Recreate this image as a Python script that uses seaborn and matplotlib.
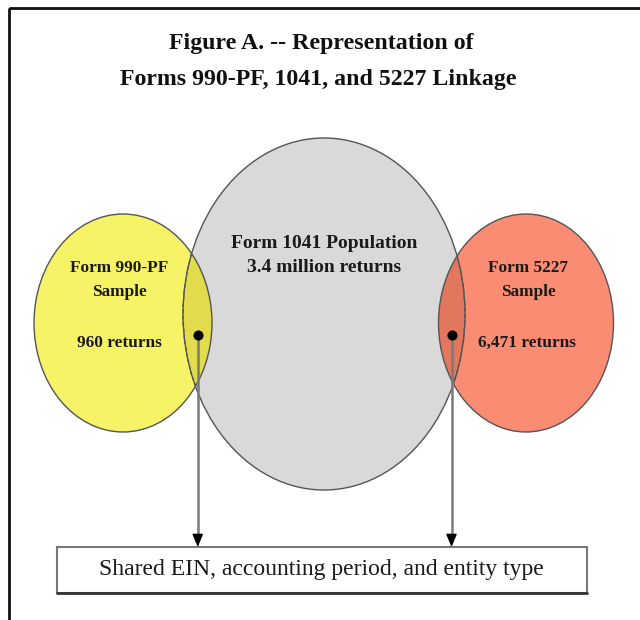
import numpy as np
import pandas as pd
import matplotlib
matplotlib.use("Agg")
import matplotlib.pyplot as plt
from matplotlib.patches import Ellipse, Rectangle
import seaborn as sns

# labels and counts shown in the diagram
title_lines = ["Figure A. -- Representation of", "Forms 990-PF, 1041, and 5227 Linkage"]
set_names = ["Form 990-PF\nSample", "Form 1041 Population", "Form 5227\nSample"]
set_counts = ["960 returns", "3.4 million returns", "6,471 returns"]
link_label = "Shared EIN, accounting period, and entity type"

# layout (pixel space of the 640x620 canvas)
W, H = 640, 620
ellipses = {
    "pf":   dict(cx=123, cy=323, w=178, h=218, fc="#f6f466", over="#e2dc4c"),
    "pop":  dict(cx=324, cy=314, w=282, h=352, fc="#d9d9d9"),
    "s5227": dict(cx=526, cy=323, w=175, h=218, fc="#f98c72", over="#e2775d"),
}
link_y = 335
box = dict(x0=57, y0=547, x1=587, y1=593)


def x_extent(e, y):
    half = e["w"] / 2 * np.sqrt(max(0.0, 1 - ((y - e["cy"]) / (e["h"] / 2)) ** 2))
    return e["cx"] - half, e["cx"] + half


sns.set_theme(style="white")
plt.rcParams["font.family"] = ["Liberation Serif", "DejaVu Serif"]

fig = plt.figure(figsize=(W / 100, H / 100), dpi=100)
ax = fig.add_axes([0, 0, 1, 1])

# outer frame (runs off the right/bottom edge in the original)
ax.add_patch(Rectangle((9, 8), 700, 700, fill=False, ec="#111111", lw=2, zorder=1))

# title
ax.text(W / 2 + 1, 43, title_lines[0], ha="center", va="center", fontsize=17.2, fontweight="bold", color="#111111")
ax.text(W / 2 - 2, 80, title_lines[1], ha="center", va="center", fontsize=17.2, fontweight="bold", color="#111111")

patches = {}
for key in ["pop", "pf", "s5227"]:
    e = ellipses[key]
    p = Ellipse((e["cx"], e["cy"]), e["w"], e["h"], fc=e["fc"], ec="none", zorder=2)
    ax.add_patch(p)
    patches[key] = p

# overlap lenses: population ellipse clipped to each sample ellipse
pop = ellipses["pop"]
for key in ["pf", "s5227"]:
    lens = Ellipse((pop["cx"], pop["cy"]), pop["w"], pop["h"], fc=ellipses[key]["over"], ec="none", zorder=3)
    ax.add_patch(lens)
    lens.set_clip_path(patches[key])
    dash = Ellipse((pop["cx"], pop["cy"]), pop["w"], pop["h"], fill=False, ec="#5a4a35",
                   lw=0.9, ls=(0, (3, 2)), zorder=4)
    ax.add_patch(dash)
    dash.set_clip_path(patches[key])

# solid outlines
for key in ["pop", "pf", "s5227"]:
    e = ellipses[key]
    ax.add_patch(Ellipse((e["cx"], e["cy"]), e["w"], e["h"], fill=False, ec="#555555", lw=1.0, zorder=5))

# labels inside circles
pf, s5 = ellipses["pf"], ellipses["s5227"]
lab = dict(ha="center", va="center", fontweight="bold", color="#1a1a1a", zorder=6)
ax.text(pf["cx"] - 4, 280, set_names[0], fontsize=12.4, linespacing=1.6, **lab)
ax.text(pf["cx"] - 4, 343, set_counts[0], fontsize=12.4, **lab)
ax.text(pop["cx"], 243, set_names[1], fontsize=14, **lab)
ax.text(pop["cx"], 267, set_counts[1], fontsize=14, **lab)
ax.text(s5["cx"] + 2, 280, set_names[2], fontsize=12.4, linespacing=1.6, **lab)
ax.text(s5["cx"] + 1, 343, set_counts[2], fontsize=12.4, **lab)

# link points: middle of each overlap lens at link_y
left_x = (x_extent(pop, link_y)[0] + x_extent(pf, link_y)[1]) / 2
right_x = (x_extent(s5, link_y)[0] + x_extent(pop, link_y)[1]) / 2
dots = pd.DataFrame({"x": [left_x, right_x], "y": [link_y, link_y]})

for x in dots["x"]:
    ax.plot([x, x], [link_y, box["y0"] - 6], color="#7a7a7a", lw=1.8, zorder=7, solid_capstyle="butt")
    ax.annotate("", xy=(x, box["y0"]), xytext=(x, box["y0"] - 12),
                arrowprops=dict(arrowstyle="-|>,head_length=0.6,head_width=0.25", color="black",
                                lw=1, shrinkA=0, shrinkB=0, mutation_scale=13), zorder=8)
sns.scatterplot(data=dots, x="x", y="y", ax=ax, s=45, color="black", edgecolor="black", zorder=8, legend=False)
ax.set_xlim(0, W)
ax.set_ylim(H, 0)
ax.axis("off")

# bottom box
ax.add_patch(Rectangle((box["x0"], box["y0"]), box["x1"] - box["x0"], box["y1"] - box["y0"],
                       fc="white", ec="#777777", lw=1.5, zorder=6))
ax.plot([box["x0"], box["x1"]], [box["y1"], box["y1"]], color="#333333", lw=2, zorder=7)
ax.text((box["x0"] + box["x1"]) / 2 - 1, (box["y0"] + box["y1"]) / 2 - 1, link_label, ha="center", va="center",
        fontsize=17, color="#1a1a1a", zorder=8)

fig.savefig("out.png", dpi=100, facecolor="white")
